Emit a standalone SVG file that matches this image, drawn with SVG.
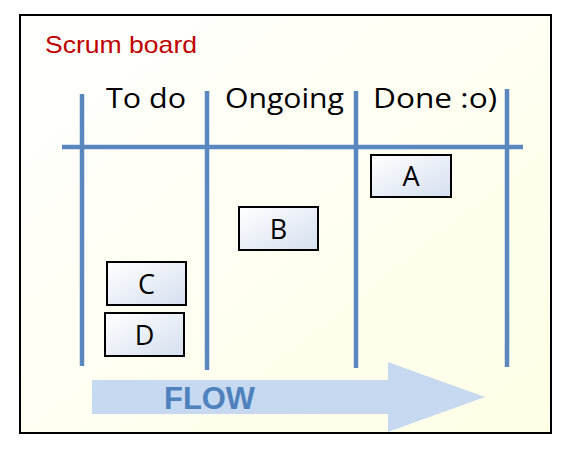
<svg xmlns="http://www.w3.org/2000/svg" width="564" height="449" viewBox="0 0 564 449">
<defs>
<linearGradient id="bg" x1="0" y1="0" x2="1" y2="1">
<stop offset="0" stop-color="#FFFFFF"/>
<stop offset="1" stop-color="#FFFFE6"/>
</linearGradient>
<linearGradient id="card" x1="0" y1="0" x2="1" y2="1">
<stop offset="0" stop-color="#FFFFFF"/>
<stop offset="1" stop-color="#D5DFEF"/>
</linearGradient>
<style>
.line{stroke:#5B87C0;stroke-width:4.5;fill:none}
.card rect{fill:url(#card);stroke:#000;stroke-width:2}
.hand{font-family:"Comic Sans MS","Open Sans","DejaVu Sans",sans-serif;fill:#000}
.hdr{font-size:28px}
.lbl{font-size:27px;text-anchor:middle}
</style>
</defs>
<rect x="0" y="0" width="564" height="449" fill="#FFFFFF"/>
<rect id="frame" x="20" y="15" width="531" height="418" fill="url(#bg)" stroke="#000" stroke-width="2"/>
<text x="45" y="53" font-family="Liberation Sans, Arial, sans-serif" font-size="24" textLength="152" lengthAdjust="spacingAndGlyphs" fill="#C00000">Scrum board</text>
<g id="flow">
<path d="M92,380 H388 V362 L485,397 L388,432 V414 H92 Z" fill="#C6D9F1"/>
<text x="164" y="409" font-family="Liberation Sans, Arial, sans-serif" font-size="31" font-weight="bold" textLength="91" lengthAdjust="spacingAndGlyphs" fill="#4F81BD">FLOW</text>
</g>
<g id="grid">
<line class="line" x1="82" y1="94" x2="82" y2="366"/>
<line class="line" x1="207" y1="91" x2="207" y2="370"/>
<line class="line" x1="356" y1="91" x2="356" y2="368"/>
<line class="line" x1="507" y1="89" x2="507" y2="367"/>
<line class="line" x1="62" y1="147" x2="523" y2="147"/>
</g>
<g id="headers" class="hand hdr">
<text x="106" y="108" textLength="80" lengthAdjust="spacingAndGlyphs">To do</text>
<text x="225" y="108" textLength="119" lengthAdjust="spacingAndGlyphs">Ongoing</text>
<text x="373" y="108" textLength="124" lengthAdjust="spacingAndGlyphs">Done :o)</text>
</g>
<g id="A" class="card"><rect x="371" y="155" width="80" height="42"/><text class="hand lbl" x="411" y="186">A</text></g>
<g id="B" class="card"><rect x="239" y="207" width="79" height="43"/><text class="hand lbl" x="278.5" y="239">B</text></g>
<g id="C" class="card"><rect x="107" y="262" width="79" height="43"/><text class="hand lbl" x="146.5" y="294">C</text></g>
<g id="D" class="card"><rect x="105" y="313" width="79" height="43"/><text class="hand lbl" x="144.5" y="345">D</text></g>
</svg>
